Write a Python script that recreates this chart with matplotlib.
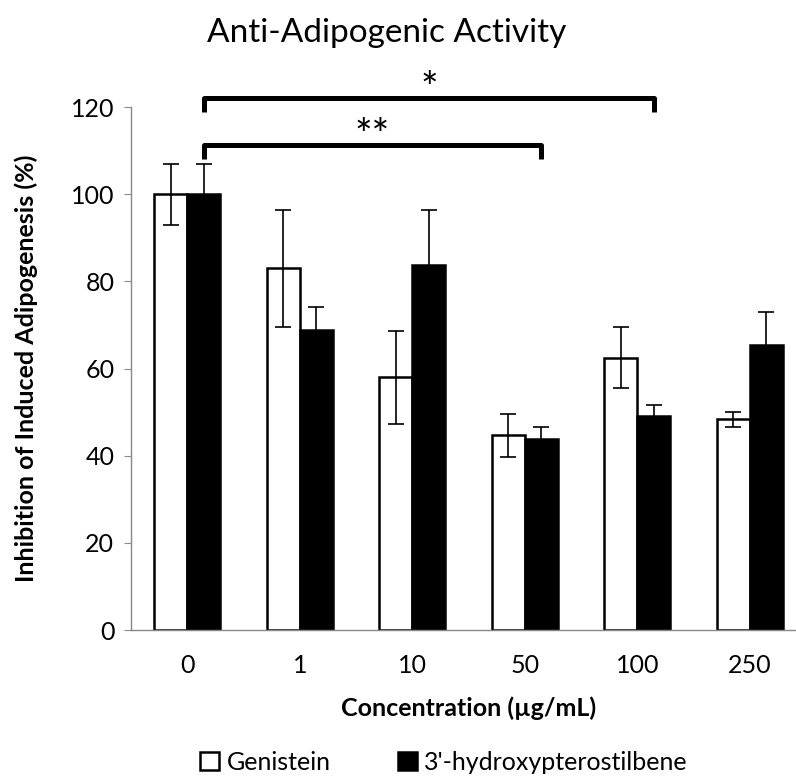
import numpy as np
import matplotlib
matplotlib.use('Agg')
import matplotlib.pyplot as plt

plt.rcParams['font.family'] = ['Lato', 'DejaVu Sans']

concentrations = ["0", "1", "10", "50", "100", "250"]
genistein = [100, 83, 58, 44.7, 62.5, 48.4]
genistein_err = [7, 13.5, 10.7, 4.9, 7, 1.7]
hydroxy = [100, 68.8, 83.7, 43.8, 49.2, 65.5]
hydroxy_err = [7, 5.3, 12.6, 2.8, 2.4, 7.4]

fig = plt.figure(figsize=(7.96, 7.77), dpi=100)
ax = fig.add_axes([0.1646, 0.189, 0.848, 0.6731])

x = np.arange(len(concentrations))
w = 0.295
ekw = dict(ecolor="black", elinewidth=1.2, capsize=6, capthick=1.2)
ax.bar(x - w / 2, genistein, w, color="white", edgecolor="black", linewidth=1.8,
       yerr=genistein_err, error_kw=ekw, label="Genistein", zorder=2)
ax.bar(x + w / 2, hydroxy, w, color="black", edgecolor="black", linewidth=1.8,
       yerr=hydroxy_err, error_kw=ekw, label="3'-hydroxypterostilbene", zorder=2)

# significance brackets: 0 vs 100 (*), 0 vs 50 (**)
def bracket(i0, i1, y_top, y_bot, text, ty):
    x0, x1 = i0 + w / 2, i1 + w / 2
    ax.plot([x0, x0, x1, x1], [y_bot, y_top, y_top, y_bot], color="black",
            linewidth=3.6, clip_on=False, solid_joinstyle="round", solid_capstyle="butt")
    ax.text((x0 + x1) / 2, ty, text, ha="center", va="center", fontsize=30, clip_on=False)

bracket(0, 4, 122.2, 119.0, "*", 124.0)
bracket(0, 3, 111.3, 108.2, "**", 113.2)

ax.set_xlim(-0.5, 5.5)
ax.set_ylim(0, 120)
ax.set_yticks(np.arange(0, 121, 20))
ax.set_xticks(x)
ax.set_xticklabels(concentrations)
ax.tick_params(axis="y", length=5, color="#888888", labelsize=18, pad=7)
ax.tick_params(axis="x", length=0, labelsize=18, pad=17)

for s in ["top", "right"]:
    ax.spines[s].set_visible(False)
for s in ["left", "bottom"]:
    ax.spines[s].set_color("#888888")
    ax.spines[s].set_linewidth(1)

ax.set_xlabel("Concentration (µg/mL)", fontsize=18, fontweight="bold", labelpad=14)
ax.set_ylabel("Inhibition of Induced Adipogenesis (%)", fontsize=18, fontweight="bold", labelpad=24)

fig.text(0.486, 0.958, "Anti-Adipogenic Activity", ha="center", va="center", fontsize=24)

ax.legend(loc="center", bbox_to_anchor=(0.558, 0.019), bbox_transform=fig.transFigure,
          ncol=2, frameon=False, fontsize=18, handlelength=0.75, handleheight=0.75,
          handletextpad=0.3, columnspacing=2.7, borderpad=0)

fig.savefig("out.png", dpi=100)
